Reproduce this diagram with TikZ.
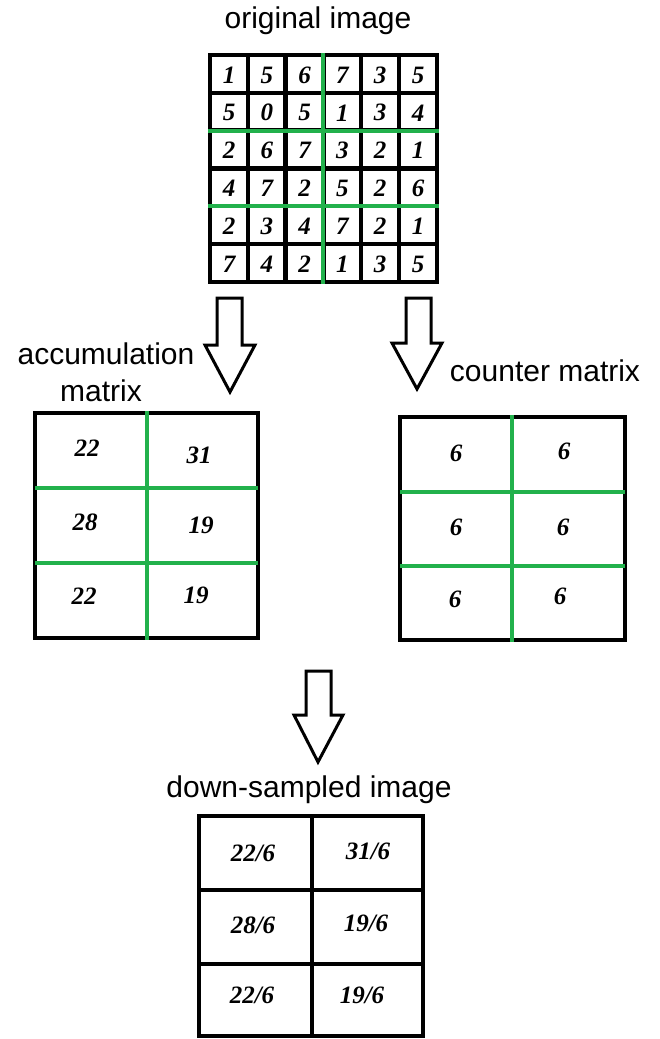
\documentclass[tikz,border=0pt]{standalone}
\usepackage{fontspec}
\setmainfont{Liberation Serif}
\newfontfamily\arialfont{Liberation Sans}
\definecolor{gridgreen}{RGB}{34,177,76}
\begin{document}
\begin{tikzpicture}[x=1pt,y=-1pt,
  blk/.style={line width=4.5pt, black, line cap=rect},
  grn/.style={line width=4pt, gridgreen},
  frame/.style={line width=4pt, black},
  num/.style={font=\fontsize{25}{25}\selectfont\bfseries\itshape, inner sep=0pt},
  lbl/.style={font=\arialfont\fontsize{30}{30}\selectfont, inner sep=0pt, anchor=base},
  blockarrow/.style={draw=black, fill=white, line width=3pt, line join=miter}]
\fill[white] (0,0) rectangle (659,1039);
\useasboundingbox (0,0) rectangle (659,1039);

% ---- original image ----
\node[lbl] (torig) at (318,28) {original image};
\foreach \i in {0,...,6} {
  \draw[blk] ({210+37.8*\i},55) -- ({210+37.8*\i},282);
  \draw[blk] (210,{55+37.8*\i}) -- (437,{55+37.8*\i});
}
\draw[grn] (323.4,53) -- (323.4,284);
\draw[grn] (208,130.6) -- (439,130.6);
\draw[grn] (208,206.2) -- (439,206.2);
\foreach \row [count=\r from 0] in {{1,5,6,7,3,5},{5,0,5,1,3,4},{2,6,7,3,2,1},{4,7,2,5,2,6},{2,3,4,7,2,1},{7,4,2,1,3,5}} {
  \foreach \v [count=\c from 0] in \row {
    \node[num] (o-\r-\c) at ({229+37.8*\c},{75+37.8*\r}) {\v};
  }
}

% ---- arrows ----
\draw[blockarrow] (217,298) -- (242,298) -- (242,345) -- (255,345) -- (230,392) -- (205,345) -- (217,345) -- cycle;
\draw[blockarrow] (406,298) -- (431,298) -- (431,343) -- (442,343) -- (417,389) -- (392,343) -- (406,343) -- cycle;
\draw[blockarrow] (306,671) -- (331,671) -- (331,715) -- (343,715) -- (318,762) -- (294,715) -- (306,715) -- cycle;

% ---- accumulation matrix ----
\node[lbl] (tacc1) at (106,364) {accumulation};
\node[lbl] (tacc2) at (101,401) {matrix};
\draw[frame] (35,413) rectangle (258,638);
\draw[grn] (147,411) -- (147,640);
\draw[grn] (35,488) -- (258,488);
\draw[grn] (35,563) -- (258,563);
\node[num] (a11) at (87,448) {22};
\node[num] (a12) at (199,455) {31};
\node[num] (a21) at (85,522) {28};
\node[num] (a22) at (201,525) {19};
\node[num] (a31) at (84,596) {22};
\node[num] (a32) at (196,595) {19};

% ---- counter matrix ----
\node[lbl] (tcnt) at (545,381) {counter matrix};
\draw[frame] (400,417) rectangle (625,640);
\draw[grn] (512,415) -- (512,642);
\draw[grn] (400,492) -- (625,492);
\draw[grn] (400,566) -- (625,566);
\node[num] (c11) at (456,453) {6};
\node[num] (c12) at (564,451) {6};
\node[num] (c21) at (456,527) {6};
\node[num] (c22) at (563,527) {6};
\node[num] (c31) at (455,599) {6};
\node[num] (c32) at (560,596) {6};

% ---- down-sampled image ----
\node[lbl] (tdown) at (309,797) {down-sampled image};
\draw[frame] (199,816) rectangle (423,1036);
\draw[frame] (312,816) -- (312,1036);
\draw[frame] (199,890) -- (423,890);
\draw[frame] (199,964) -- (423,964);
\node[num] (d11) at (253,853) {22/6};
\node[num] (d12) at (368,851) {31/6};
\node[num] (d21) at (253,925) {28/6};
\node[num] (d22) at (366,923) {19/6};
\node[num] (d31) at (252,995) {22/6};
\node[num] (d32) at (362,995) {19/6};
\end{tikzpicture}
\end{document}
